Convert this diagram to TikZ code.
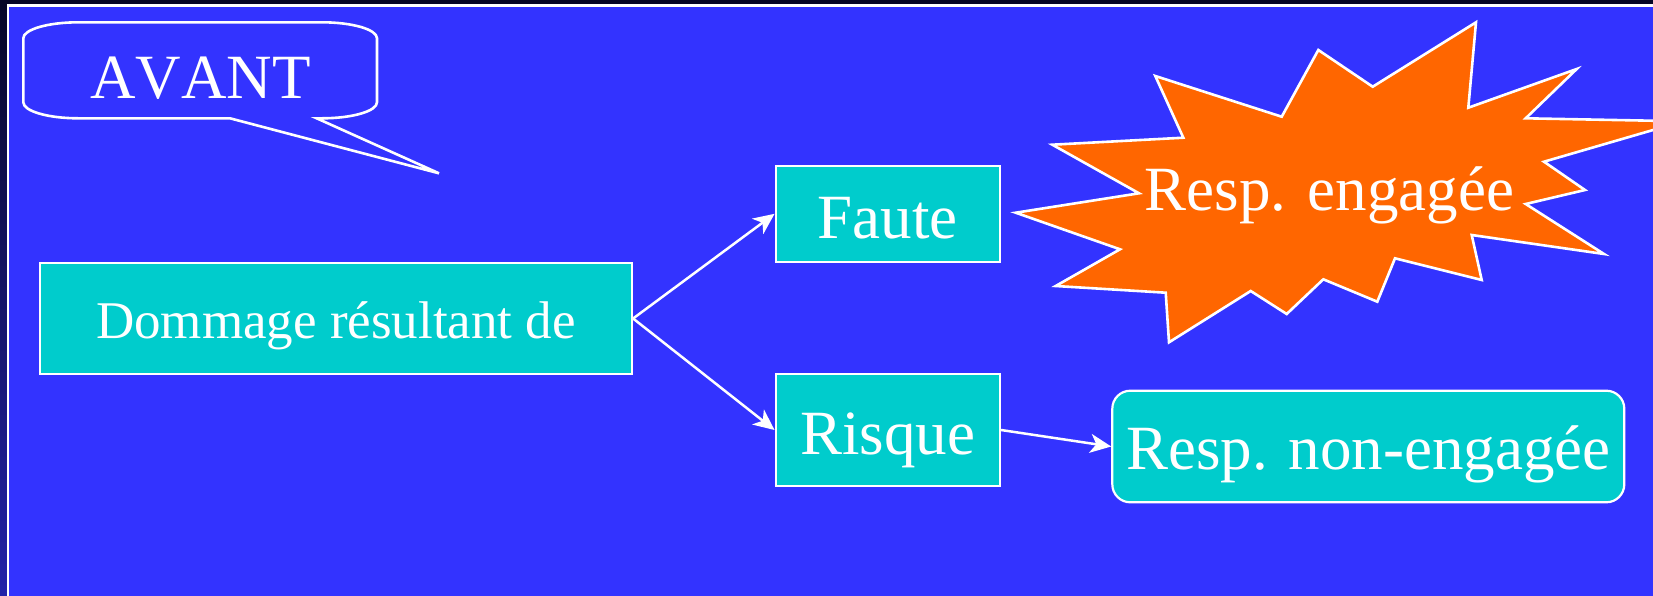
\documentclass[tikz,border=0pt]{standalone}
\usepackage{fontspec}
\setmainfont{Liberation Serif}[Kerning=Off]
\usetikzlibrary{arrows.meta}
\definecolor{panelblue}{RGB}{51,51,255}
\definecolor{boxcyan}{RGB}{0,204,204}
\definecolor{starorange}{RGB}{255,102,0}
\definecolor{navytop}{RGB}{6,6,38}
\definecolor{navybot}{RGB}{34,34,168}
\tikzset{
  cyanbox/.style={draw=white, line width=2.2pt, fill=boxcyan, text=white, inner sep=0pt, text depth=0pt},
  bigfont/.style={font=\fontsize{63}{63}\selectfont},
  midfont/.style={font=\fontsize{53}{53}\selectfont},
  conn/.style={draw=white, line width=2.5pt, -{Stealth[length=21pt,width=19pt,inset=6pt]}},
  outline/.style={draw=white, line width=2.6pt, line join=miter}
}
\begin{document}
\begin{tikzpicture}[x=1pt,y=-1pt]
\useasboundingbox (0,0) rectangle (1653,595);
% background
\shade[top color=navytop, bottom color=navybot] (0,0) rectangle (1653,595);
\fill[panelblue] (8,5.5) rectangle (1660,600);
\draw[white, line width=2.2pt] (8,600) -- (8,5.5) -- (1660,5.5);

% callout
\draw[outline]
  (230,118.3) -- (439,173.3) -- (316.7,118.3) -- (322,118.3)
  .. controls (352.4,118.3) and (377,111.1) .. (377,102.3)
  -- (377,38.3)
  .. controls (377,29.5) and (352.4,22.3) .. (322,22.3)
  -- (78.3,22.3)
  .. controls (47.9,22.3) and (23.3,29.5) .. (23.3,38.3)
  -- (23.3,102.3)
  .. controls (23.3,111.1) and (47.9,118.3) .. (78.3,118.3)
  -- cycle;
\node[bigfont, text=white, anchor=base, inner sep=0pt] (avant) at (200.5,98.3) {AVANT};

% star
\begin{scope}
\clip (0,0) rectangle (1653,595);
\draw[outline, fill=starorange]
  (1155.3,76) -- (1281.7,116.7) -- (1318.3,50) -- (1372.7,86.7) -- (1476,22.3)
  -- (1468.3,107.7) -- (1576.7,69) -- (1525.7,118.3) -- (1683,121.3)
  -- (1544,161.7) -- (1585,190) -- (1525.7,204) -- (1604,254) -- (1471.7,235)
  -- (1481.7,280) -- (1395,258.3) -- (1377.3,301.7) -- (1323.3,279.3)
  -- (1286.7,314) -- (1250.7,291) -- (1169,342.3) -- (1165.7,292.7)
  -- (1055.7,286) -- (1120,249.3) -- (1015.7,212.7) -- (1139,193.3)
  -- (1052.3,144.7) -- (1183.3,137.7) -- cycle;
\end{scope}
\node[bigfont, text=white, anchor=base, inner sep=0pt] (eng) at (1329.5,210) {Resp. engagée};

% boxes
\node[cyanbox, midfont, minimum width=592pt, minimum height=111.5pt, text height=39.6pt] (dom) at (336,318.5) {Dommage résultant de};
\node[cyanbox, bigfont, minimum width=224.3pt, minimum height=96.3pt, text height=49pt] (faute) at (887.8,213.8) {Faute};
\node[cyanbox, bigfont, minimum width=224.3pt, minimum height=111.4pt, text height=48pt] (risque) at (887.8,430) {Risque};
\node[cyanbox, bigfont, rounded corners=18pt, minimum width=512pt, minimum height=111.6pt, text height=45.6pt] (resp) at (1368.3,446.5) {Resp. non-engagée};

% connectors
\draw[conn] (dom.east) -- (faute.west);
\draw[conn] (dom.east) -- (risque.west);
\draw[conn] (risque.east) -- (resp.west);
\end{tikzpicture}
\end{document}
